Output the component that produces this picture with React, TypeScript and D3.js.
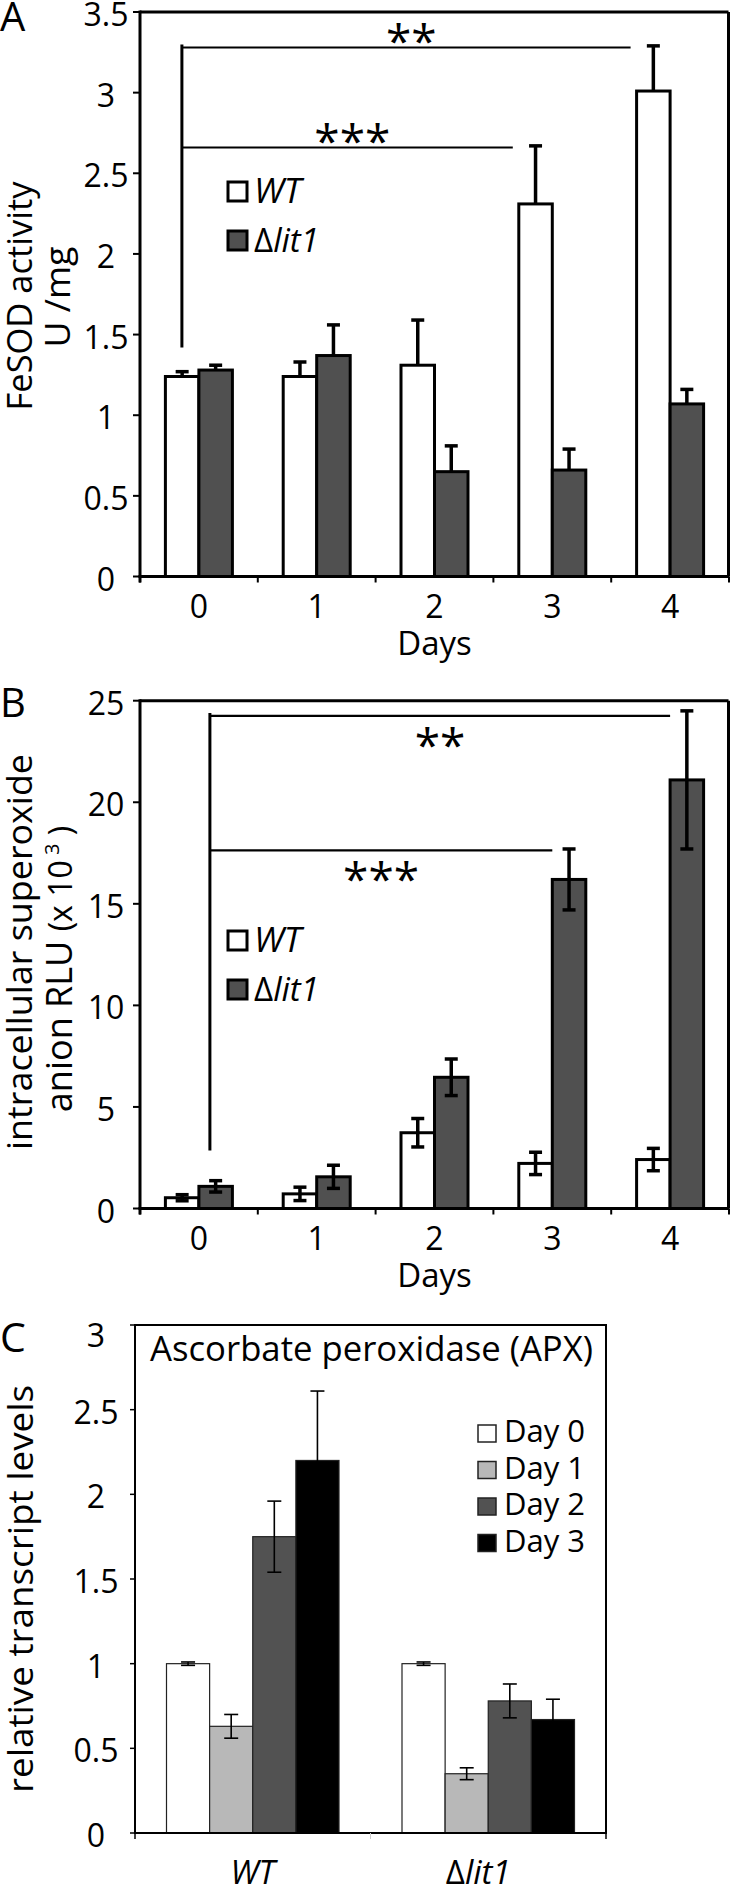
import React from "react";
import * as d3 from "d3";

const FONT = "'Open Sans', 'Noto Sans', sans-serif";
const DARK = "#505050";

const days = ["0", "1", "2", "3", "4"];

// A: FeSOD activity (U/mg); error bars only drawn upward
const fesodTicks = [0, 0.5, 1, 1.5, 2, 2.5, 3, 3.5];
const fesodWT = [1.24, 1.24, 1.31, 2.31, 3.01];
const fesodWTErr = [0.03, 0.09, 0.28, 0.36, 0.28];
const fesodLit = [1.28, 1.37, 0.65, 0.66, 1.07];
const fesodLitErr = [0.03, 0.19, 0.16, 0.13, 0.09];
const fesodSig = [
  { to: "4", level: 3.28, label: "**" },
  { to: "3", level: 2.66, label: "***" },
];
const fesodStemBase = 1.42;

// B: intracellular superoxide anion, RLU x 10^3
const superTicks = [0, 5, 10, 15, 20, 25];
const superWT = [0.53, 0.72, 3.73, 2.22, 2.41];
const superWTErr = [0.15, 0.33, 0.7, 0.55, 0.55];
const superLit = [1.09, 1.56, 6.46, 16.2, 21.1];
const superLitErr = [0.28, 0.57, 0.9, 1.5, 3.4];
const superSig = [
  { to: "4", level: 24.25, label: "**" },
  { to: "3", level: 17.63, label: "***" },
];
const superStemBase = 2.85;

// C: APX relative transcript levels
const strains = ["WT", "Δlit1"];
const apxDays = ["Day 0", "Day 1", "Day 2", "Day 3"];
const apxColors = ["#ffffff", "#b8b8b8", "#525252", "#000000"];
const apxTicks = [0, 0.5, 1, 1.5, 2, 2.5, 3];
const apxWT = [1.0, 0.63, 1.75, 2.2];
const apxWTErr = [0.01, 0.07, 0.21, 0.41];
const apxLit = [1.0, 0.35, 0.78, 0.67];
const apxLitErr = [0.01, 0.035, 0.1, 0.12];

function LitText({ x, y, size, anchor = "start" }: any) {
  return (
    <text x={x} y={y} fontSize={size} textAnchor={anchor}>
      Δ<tspan fontStyle="italic">lit1</tspan>
    </text>
  );
}

// rotated axis title, stretched to the reference's length
function VTitle({ x, y, size, len, children }: any) {
  return (
    <text
      transform={`translate(${x},${y}) rotate(-90)`}
      fontSize={size}
      textAnchor="middle"
      textLength={len}
      lengthAdjust="spacingAndGlyphs"
    >
      {children}
    </text>
  );
}

function DayPanel(p: any) {
  const left = 140;
  const right = 728.5;
  const x = d3.scaleBand().domain(days).range([left, 729]);
  const y = d3.scaleLinear().domain([0, p.max]).range([p.bottom, p.top]);
  const bw = 33.5;
  const cx = (d: string) => (x(d) as number) + x.bandwidth() / 2;
  const stemX = cx("0") + p.stemDx;
  const stemTop = y(d3.max(p.sig, (s: any) => s.level) as number);
  const series = [
    { vals: p.wt, errs: p.wtErr, fill: "#fff", off: -bw },
    { vals: p.lit, errs: p.litErr, fill: DARK, off: 0 },
  ];
  const cap = 13;
  const sigEnd = (to: string) => (p.endAtBar ? cx(to) - bw - 6 : cx(to));

  return (
    <g>
      <text x={0} y={p.letterY} fontSize={40}>{p.letter}</text>

      {/* bars */}
      {series.map((s, si) =>
        days.map((d, i) => (
          <rect
            key={si + "-" + d}
            x={cx(d) + s.off}
            y={y(s.vals[i])}
            width={bw}
            height={p.bottom - y(s.vals[i])}
            fill={s.fill}
            stroke="#000"
            strokeWidth={3}
          />
        ))
      )}

      {/* error bars */}
      {series.map((s, si) =>
        days.map((d, i) => {
          const ex = cx(d) + s.off + bw / 2;
          const hi = y(s.vals[i] + s.errs[i]);
          const lo = p.twoSided ? y(s.vals[i] - s.errs[i]) : y(s.vals[i]);
          return (
            <g key={"e" + si + d} stroke="#000" strokeWidth={3.5}>
              <line x1={ex} x2={ex} y1={lo} y2={hi} />
              <line x1={ex - cap / 2} x2={ex + cap / 2} y1={hi} y2={hi} />
              {p.twoSided && <line x1={ex - cap / 2} x2={ex + cap / 2} y1={lo} y2={lo} />}
            </g>
          );
        })
      )}

      {/* frame and axes */}
      <g stroke="#000" strokeWidth={3} fill="none">
        <line x1={left} x2={right} y1={p.top} y2={p.top} />
        <line x1={right} x2={right} y1={p.top} y2={p.bottom} />
        <line x1={left} x2={left} y1={p.top - 1.5} y2={p.bottom + 6} />
        <line x1={left - 1.5} x2={729} y1={p.bottom} y2={p.bottom} />
      </g>
      <g stroke="#000" strokeWidth={2}>
        {p.ticks.map((t: number) => (
          <line key={t} x1={left - 7} x2={left} y1={y(t)} y2={y(t)} />
        ))}
        {days.concat(["end"]).map((d, i) => {
          const tx = left + i * x.bandwidth();
          return <line key={d} x1={tx} x2={tx} y1={p.bottom} y2={p.bottom + 6} />;
        })}
      </g>
      {p.ticks.map((t: number) => (
        <text key={t} x={106} y={y(t) + 14} fontSize={32} textAnchor="middle">
          {t}
        </text>
      ))}
      {days.map((d) => (
        <text key={d} x={cx(d)} y={p.bottom + 41} fontSize={32} textAnchor="middle">
          {d}
        </text>
      ))}
      <text x={434.5} y={p.bottom + 78} fontSize={33} textAnchor="middle">
        Days
      </text>

      {/* significance brackets */}
      <g stroke="#000" fill="none">
        <line x1={stemX} x2={stemX} y1={y(p.stemBase)} y2={stemTop - 3} strokeWidth={3} />
        {p.sig.map((s: any) => (
          <line key={s.to} x1={stemX} x2={sigEnd(s.to)} y1={y(s.level)} y2={y(s.level)} strokeWidth={2.2} />
        ))}
      </g>
      {p.sig.map((s: any) => {
        const mx = (stemX + sigEnd(s.to)) / 2 + p.starDx;
        const ty = p.starsAbove ? y(s.level) + 11 : y(s.level) + 46;
        return (
          <text key={"t" + s.to} x={mx} y={ty} fontSize={46} textAnchor="middle">
            {s.label}
          </text>
        );
      })}

      {/* legend */}
      <g>
        <rect x={228} y={p.legendTop} width={19} height={19} fill="#fff" stroke="#000" strokeWidth={3} />
        <text x={254} y={p.legendTop + 21} fontSize={35} fontStyle="italic">WT</text>
        <rect x={228} y={p.legendTop + 49} width={19} height={19} fill={DARK} stroke="#000" strokeWidth={3} />
        <LitText x={254} y={p.legendTop + 70} size={33} />
      </g>

      {p.children}
    </g>
  );
}

function ApxPanel() {
  const left = 135;
  const right = 606;
  const top = 1325;
  const bottom = 1833;
  const x = d3.scaleBand().domain(strains).range([left, right]);
  const sub = d3.scaleBand().domain(apxDays).range([-86.25, 86.25]);
  const y = d3.scaleLinear().domain([0, 3]).range([bottom, top]);
  const groups = [
    { strain: "WT", vals: apxWT, errs: apxWTErr },
    { strain: "Δlit1", vals: apxLit, errs: apxLitErr },
  ];
  const cx = (s: string) => (x(s) as number) + x.bandwidth() / 2;
  const cap = 14;

  return (
    <g>
      <text x={0} y={1352} fontSize={41}>C</text>

      {groups.map((g) =>
        apxDays.map((d, i) => (
          <rect
            key={g.strain + d}
            x={cx(g.strain) + (sub(d) as number)}
            y={y(g.vals[i])}
            width={sub.bandwidth()}
            height={bottom - y(g.vals[i])}
            fill={apxColors[i]}
            stroke="#222"
            strokeWidth={1.2}
          />
        ))
      )}
      {groups.map((g) =>
        apxDays.map((d, i) => {
          const ex = cx(g.strain) + (sub(d) as number) + sub.bandwidth() / 2;
          const hi = y(g.vals[i] + g.errs[i]);
          const lo = y(g.vals[i] - g.errs[i]);
          return (
            <g key={"e" + g.strain + d} stroke="#000" strokeWidth={1.6}>
              <line x1={ex} x2={ex} y1={lo} y2={hi} />
              <line x1={ex - cap / 2} x2={ex + cap / 2} y1={hi} y2={hi} />
              <line x1={ex - cap / 2} x2={ex + cap / 2} y1={lo} y2={lo} />
            </g>
          );
        })
      )}

      <rect x={left} y={top} width={right - left} height={bottom - top} fill="none" stroke="#000" strokeWidth={2} />
      <g stroke="#000" strokeWidth={1.5}>
        {apxTicks.map((t) => (
          <line key={t} x1={left - 5} x2={left} y1={y(t)} y2={y(t)} />
        ))}
        <line x1={left} x2={left} y1={bottom} y2={bottom + 6} />
        <line x1={right} x2={right} y1={bottom} y2={bottom + 6} />
      </g>
      <line x1={(left + right) / 2} x2={(left + right) / 2} y1={bottom} y2={bottom + 6} stroke="#ccc" strokeWidth={1} />
      {apxTicks.map((t, i) => (
        <text key={t} x={96} y={y(t) + 14 + (i === apxTicks.length - 1 ? 8 : 0)} fontSize={32} textAnchor="middle">
          {t}
        </text>
      ))}
      <text x={cx("WT")} y={1884} fontSize={33} fontStyle="italic" textAnchor="middle">WT</text>
      <LitText x={cx("Δlit1") - 10} y={1884} size={33} anchor="middle" />

      <text
        x={(left + right) / 2 + 1}
        y={1361}
        fontSize={34}
        textAnchor="middle"
        textLength={443}
        lengthAdjust="spacingAndGlyphs"
      >
        Ascorbate peroxidase (APX)
      </text>

      {apxDays.map((d, i) => (
        <g key={d}>
          <rect x={478} y={1425 + i * 36.5} width={18} height={17} fill={apxColors[i]} stroke="#222" strokeWidth={1.5} />
          <text x={504} y={1442 + i * 36.5} fontSize={31}>{d}</text>
        </g>
      ))}

      <VTitle x={33} y={1589} size={34} len={408}>relative transcript levels</VTitle>
    </g>
  );
}

export default function App() {
  return (
    <svg
      width={731}
      height={1887}
      style={{ position: "absolute", left: 0, top: 0, background: "#fff" }}
      fontFamily={FONT}
    >
      <rect width={731} height={1887} fill="#fff" />
      <DayPanel
        letter="A"
        letterY={31}
        top={12}
        bottom={576.5}
        max={3.5}
        ticks={fesodTicks}
        wt={fesodWT}
        wtErr={fesodWTErr}
        lit={fesodLit}
        litErr={fesodLitErr}
        twoSided={false}
        sig={fesodSig}
        stemBase={fesodStemBase}
        stemDx={-17}
        endAtBar={true}
        starsAbove={true}
        starDx={5}
        legendTop={182}
      >
        <VTitle x={32} y={296} size={34} len={229}>FeSOD activity</VTitle>
        <VTitle x={70} y={297} size={34} len={101}>U /mg</VTitle>
      </DayPanel>
      <DayPanel
        letter="B"
        letterY={717}
        top={700.7}
        bottom={1208.5}
        max={25}
        ticks={superTicks}
        wt={superWT}
        wtErr={superWTErr}
        lit={superLit}
        litErr={superLitErr}
        twoSided={true}
        sig={superSig}
        stemBase={superStemBase}
        stemDx={11}
        endAtBar={false}
        starsAbove={false}
        starDx={0}
        legendTop={931}
      >
        <VTitle x={32} y={952} size={35} len={396}>intracellular superoxide</VTitle>
        <text transform="translate(72,969) rotate(-90)" fontSize={36} textAnchor="middle">
          anion RLU <tspan fontSize={32}>(x 10</tspan>
          <tspan fontSize={20} dy={-13}> 3</tspan>
          <tspan fontSize={32} dy={13}> )</tspan>
        </text>
      </DayPanel>
      <ApxPanel />
    </svg>
  );
}
